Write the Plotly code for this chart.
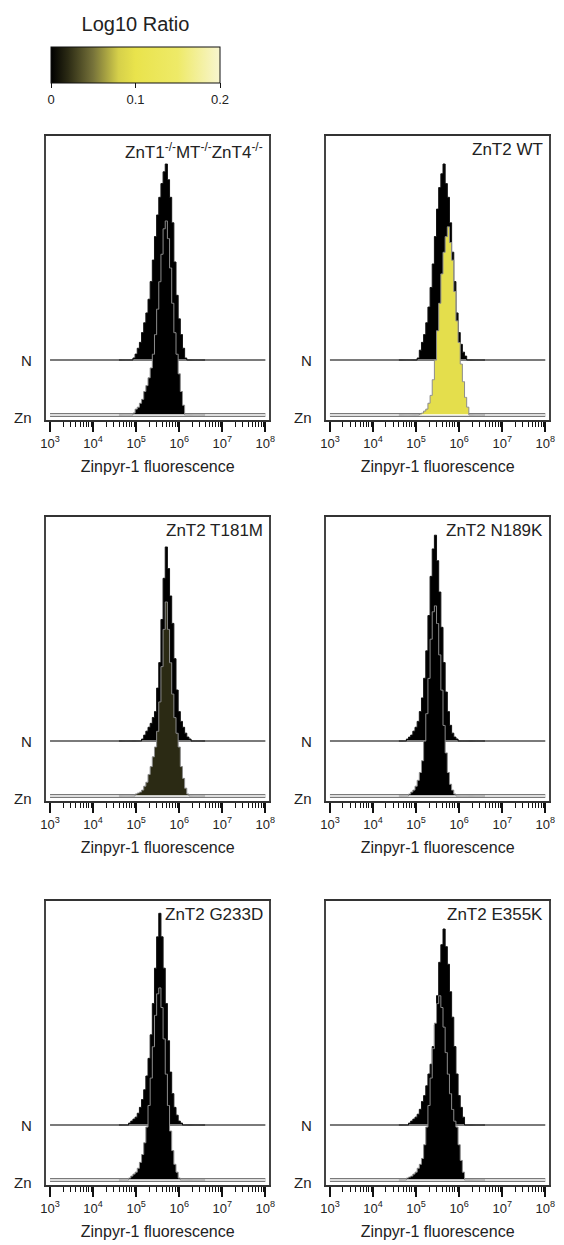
import plotly.graph_objects as go
from plotly.colors import sample_colorscale

# ---------------- data ----------------
LOG_BINS = [4.60, 4.65, 4.70, 4.75, 4.80, 4.85, 4.90, 4.95, 5.00, 5.05,
            5.10, 5.15, 5.20, 5.25, 5.30, 5.35, 5.40, 5.45, 5.50, 5.55,
            5.60, 5.65, 5.70, 5.75, 5.80, 5.85, 5.90, 5.95, 6.00, 6.05,
            6.10, 6.15, 6.20, 6.25, 6.30, 6.35, 6.40, 6.45, 6.50, 6.55, 6.60]

PANEL_TITLES = ["ZnT1<sup>-/-</sup>MT<sup>-/-</sup>ZnT4<sup>-/-</sup>",
                "ZnT2 WT", "ZnT2 T181M", "ZnT2 N189K", "ZnT2 G233D", "ZnT2 E355K"]

LOG10_RATIO = [0.0, 0.095, 0.02, 0.0, 0.0, 0.0]

N_KO    = [0,0,0,0,0,0,0,1,3,6,9,14,19,24,31,40,51,63,74,83,90,96,100,92,83,70,50,33,21,13,6,1,0,0,0,0,0,0,0,0,0]
ZN_KO   = [0,0,0,0,0,0,0,1,3,4,6,8,12,15,19,24,31,41,54,68,82,95,99,90,75,57,42,31,21,12,5,0,0,0,0,0,0,0,0,0,0]
N_WT    = [0,0,0,0,0,0,0,0,0,1,5,9,13,19,27,37,49,63,77,88,95,100,90,83,70,55,40,24,14,8,4,2,0,0,0,0,0,0,0,0,0]
ZN_WT   = [0,0,0,0,0,0,0,0,0,0,0.5,1,2,3,6,10,18,28,43,57,72,83,91,96,88,79,63,48,37,26,17,9,4,0,0,0,0,0,0,0,0]
N_T181M = [0,0,0,0,0,0,0,0,0,0,0,1,3,5,7,9,12,15,27,40,62,83,99,88,74,60,42,26,15,10,7,4,2,1,0,0,0,0,0,0,0]
ZN_T181M= [0,0,0,0,0,0,0,0,1,1.5,2,3,5,7,11,15,20,25,33,48,66,85,99,85,68,52,40,32,25,15,9,4,1,0,0,0,0,0,0,0,0]
N_N189K = [0,0,0,0,1,2,3,5,7,10,15,22,32,46,64,84,98,105,92,76,58,40,25,15,8,4,2,1,0,0,0,0,0,0,0,0,0,0,0,0,0]
ZN_N189K= [0,0,0,0,0,1,2,3,5,8,12,18,28,42,60,80,94,97,88,72,54,36,22,12,6,3,1,0,0,0,0,0,0,0,0,0,0,0,0,0,0]
N_G233D = [0,0,0,0,0,1,2,3,4,6,9,13,18,25,34,46,62,80,96,108,96,80,62,43,27,16,9,5,2,1,0,0,0,0,0,0,0,0,0,0,0]
ZN_G233D= [0,0,0,0,0,1,2,3,4,6,9,13,19,27,38,52,68,84,95,98,88,72,54,38,25,15,8,4,1,0,0,0,0,0,0,0,0,0,0,0,0]
N_E355K = [0,0,0,0,0,1,2,3,4,5.5,8,12,15,20,26,31,40,51,66,83,92,100,91,82,68,55,40,26,15,9,4,0,0,0,0,0,0,0,0,0,0]
ZN_E355K= [0,0,0,0,1,1.5,2,3,4,6,8,11,18,27,38,52,67,80,90,94,88,78,65,54,44,36,30,27,18,10,4,0,0,0,0,0,0,0,0,0,0]

N_COUNTS = [N_KO, N_WT, N_T181M, N_N189K, N_G233D, N_E355K]
ZN_COUNTS = [ZN_KO, ZN_WT, ZN_T181M, ZN_N189K, ZN_G233D, ZN_E355K]

TICK_VALS = [1e3, 1e4, 1e5, 1e6, 1e7, 1e8]
TICK_TEXT = ["10<sup>3</sup>", "10<sup>4</sup>", "10<sup>5</sup>",
             "10<sup>6</sup>", "10<sup>7</sup>", "10<sup>8</sup>"]
MINOR_VALS = [m * d for d in [1e3, 1e4, 1e5, 1e6, 1e7] for m in range(2, 10)]

CB_TICKS = [0, 0.1, 0.2]
CB_TEXT = ["0", "0.1", "0.2"]
RATIO_SCALE = [[0.0, "#000000"], [0.1, "#2b2a14"], [0.25, "#77733a"],
               [0.4, "#d6d04a"], [0.5, "#e9e34c"], [0.75, "#eeea68"],
               [1.0, "#f8f5cf"]]

# ---------------- layout constants ----------------
W, H = 564, 1245
FONT = "Liberation Sans, Arial, sans-serif"
COLS = [(41, 269), (327, 555)]
ROWS = [(136, 420), (517, 801), (901, 1185)]
PX_PER_UNIT = 1.96
N_OFFSET = 55 / PX_PER_UNIT
Y_RANGE = [-5 / PX_PER_UNIT, 279 / PX_PER_UNIT]
X_RANGE = [3 - 4 / 44, 8 + 4 / 44]

fig = go.Figure()
annotations = []

for i in range(6):
    r, c = divmod(i, 2)
    suffix = "" if i == 0 else str(i + 1)
    xref, yref = "x" + suffix, "y" + suffix
    x0, x1 = COLS[c]
    top, bot = ROWS[r]
    fig.update_layout({
        "xaxis" + suffix: dict(
            domain=[x0 / W, x1 / W], anchor=yref, type="log", range=X_RANGE,
            tickvals=TICK_VALS, ticktext=TICK_TEXT, ticks="outside",
            ticklen=10, tickwidth=1.5, tickcolor="#111",
            minor=dict(tickvals=MINOR_VALS, ticks="outside", ticklen=5,
                       tickwidth=1.4, tickcolor="#111", showgrid=False),
            showline=True, mirror=True, linecolor="#333", linewidth=2,
            showgrid=False, zeroline=False,
            tickfont=dict(family=FONT, size=13, color="#222"),
            title=dict(text="Zinpyr-1 fluorescence",
                       font=dict(family=FONT, size=16, color="#222"),
                       standoff=11),
        ),
        "yaxis" + suffix: dict(
            domain=[1 - bot / H, 1 - top / H], anchor=xref, range=Y_RANGE,
            showticklabels=False, ticks="", showgrid=False, zeroline=False,
            showline=True, mirror=True, linecolor="#444", linewidth=2,
        ),
    })

    xs = [10 ** v for v in LOG_BINS]
    ratio_col = sample_colorscale(RATIO_SCALE, [LOG10_RATIO[i] / 0.2])[0]

    # N baseline + histogram
    fig.add_trace(go.Scatter(x=[1e3, 1e8], y=[N_OFFSET, N_OFFSET], mode="lines",
                             line=dict(color="#7a7a7a", width=2),
                             xaxis=xref, yaxis=yref, showlegend=False, hoverinfo="skip"))
    fig.add_trace(go.Scatter(x=xs, y=[N_OFFSET + v for v in N_COUNTS[i]], mode="lines",
                             line=dict(color="#111", width=1, shape="hvh"),
                             fill="tonexty", fillcolor="#000000",
                             xaxis=xref, yaxis=yref, showlegend=False, hoverinfo="skip"))
    # Zn baseline (double line) + histogram
    fig.add_trace(go.Scatter(x=[1e3, 1e8], y=[0, 0], mode="lines",
                             line=dict(color="#7a7a7a", width=4),
                             xaxis=xref, yaxis=yref, showlegend=False, hoverinfo="skip"))
    fig.add_trace(go.Scatter(x=[1e3, 1e8], y=[0, 0], mode="lines",
                             line=dict(color="#ffffff", width=1.5),
                             xaxis=xref, yaxis=yref, showlegend=False, hoverinfo="skip"))
    fig.add_trace(go.Scatter(x=xs, y=ZN_COUNTS[i], mode="lines",
                             line=dict(color="#8c8c8c", width=1, shape="hvh"),
                             fill="tonexty", fillcolor=ratio_col,
                             xaxis=xref, yaxis=yref, showlegend=False, hoverinfo="skip"))

    annotations.append(dict(text=PANEL_TITLES[i], xref=xref + " domain", yref=yref + " domain",
                            x=1, y=1, xanchor="right", yanchor="top", xshift=-4, yshift=-2,
                            showarrow=False, font=dict(family=FONT, size=17, color="#222")))
    annotations.append(dict(text="N", xref=xref + " domain", yref=yref, x=0, y=N_OFFSET,
                            xanchor="right", yanchor="middle", xshift=-12,
                            showarrow=False, font=dict(family=FONT, size=15, color="#222")))
    annotations.append(dict(text="Zn", xref=xref + " domain", yref=yref, x=0, y=0,
                            xanchor="right", yanchor="middle", xshift=-12, yshift=-2,
                            showarrow=False, font=dict(family=FONT, size=15, color="#222")))

# colorbar carrier (point lies outside the visible range)
fig.add_trace(go.Scatter(
    x=[1e3], y=[-1000], mode="markers", xaxis="x", yaxis="y", showlegend=False,
    hoverinfo="skip",
    marker=dict(color=[0], cmin=0, cmax=0.2, colorscale=RATIO_SCALE, showscale=True,
                colorbar=dict(orientation="h", x=46 / W, xanchor="left",
                              y=1 - 25 / H, yanchor="top",
                              len=169, lenmode="pixels", thickness=36,
                              outlinewidth=1, outlinecolor="#111",
                              tickvals=CB_TICKS, ticktext=CB_TEXT, ticks="outside",
                              ticklen=5, tickcolor="#111",
                              tickfont=dict(family=FONT, size=13, color="#222"),
                              xpad=0, ypad=0,
                              title=dict(text="Log10 Ratio", side="top",
                                         font=dict(family=FONT, size=20, color="#222"))))))

fig.update_layout(width=W, height=H, margin=dict(l=0, r=0, t=0, b=0),
                  paper_bgcolor="white", plot_bgcolor="white",
                  annotations=annotations, showlegend=False)

fig.write_html("out.html")
